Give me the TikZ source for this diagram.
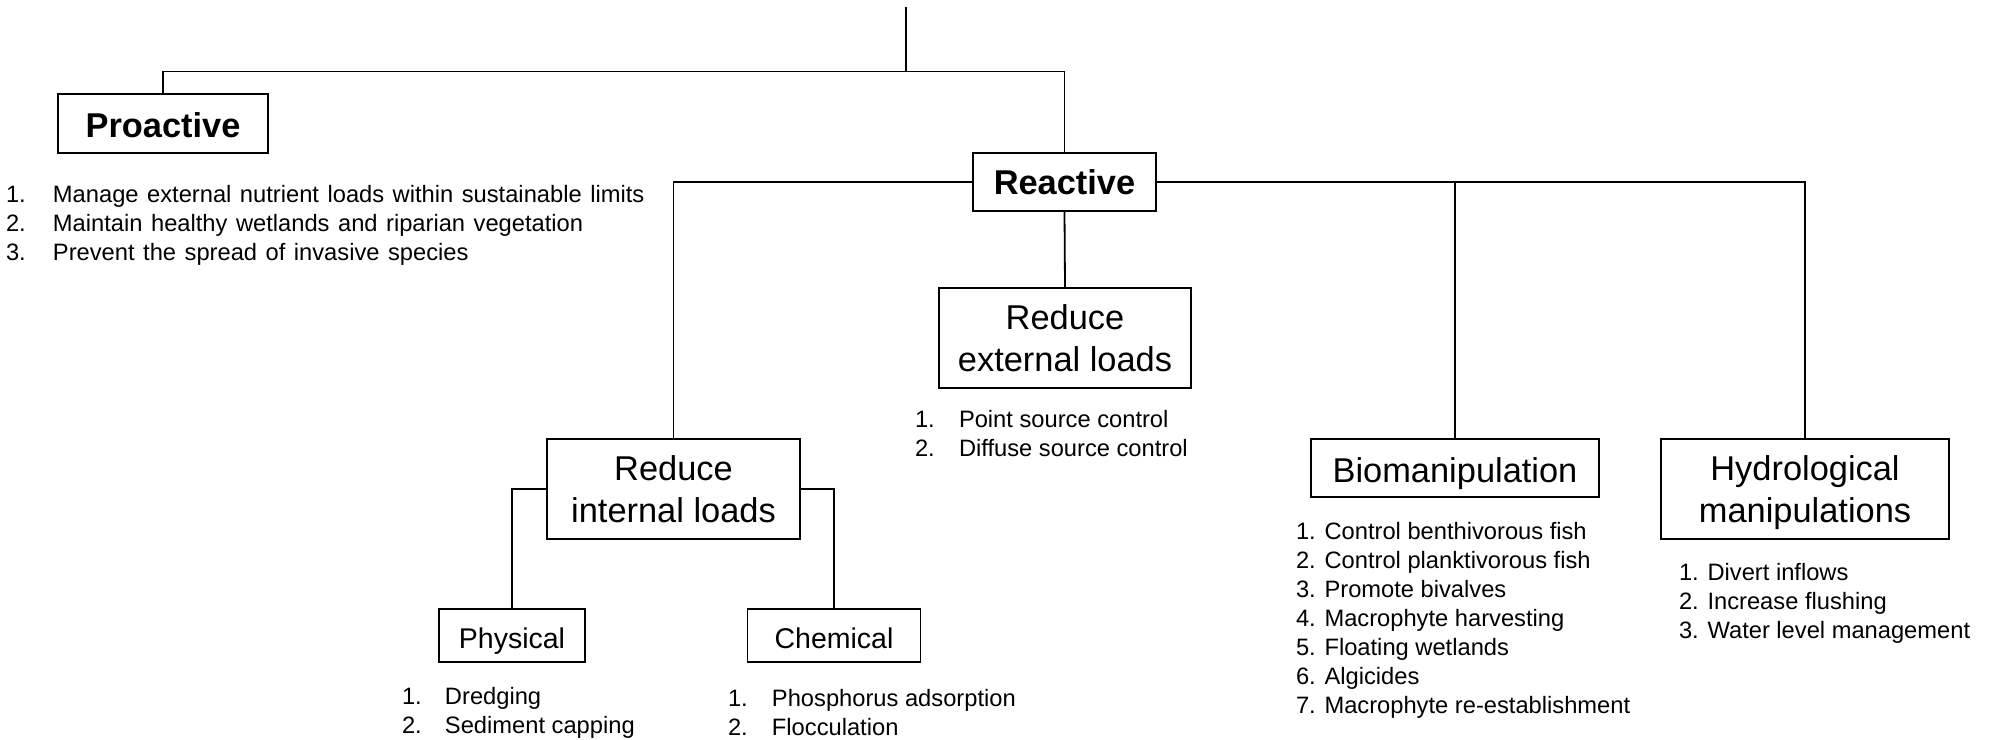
\documentclass[tikz,border=0pt]{standalone}
\usepackage{fontspec}
\setmainfont{Liberation Sans}
\begin{document}
\begin{tikzpicture}[x=1pt,y=-1pt,
  line width=1.8pt,
  box/.style={draw, line width=1.8pt, inner sep=0pt, outer sep=0pt, align=center,
    font=\fontsize{34.4}{42}\selectfont},
  boldbox/.style={box, font=\fontsize{34.4}{42}\selectfont\bfseries},
  smallbox/.style={box, font=\fontsize{28.5}{34}\selectfont, text height=26pt, text depth=0pt},
  listtext/.style={anchor=base west, inner sep=0pt, outer sep=0pt,
    font=\fontsize{23.7}{29}\selectfont},
  conn/.style={draw, line width=1.8pt}
]
\fill[white] (0,0) rectangle (1996,739);
\useasboundingbox (0,0) rectangle (1996,739);

% boxes
\node[boldbox, minimum width=210pt, minimum height=59pt, text height=27pt, text depth=0pt] (pro) at (163,123.5) {Proactive};
\node[boldbox, minimum width=183pt, minimum height=58pt] (reac) at (1064.5,182) {Reactive};
\node[box, minimum width=252pt, minimum height=100pt] (rext) at (1065,338) {Reduce\\external loads};
\node[box, minimum width=253pt, minimum height=100pt] (rint) at (673.5,489) {Reduce\\internal loads};
\node[box, minimum width=288pt, minimum height=58pt, text height=28pt, text depth=0pt] (bio) at (1455,468) {Biomanipulation};
\node[box, minimum width=288pt, minimum height=100pt, text depth=0pt] (hydro) at (1805,489) {Hydrological\\manipulations};
\node[smallbox, minimum width=146pt, minimum height=53pt] (phys) at (512,635.5) {Physical};
\node[smallbox, minimum width=173pt, minimum height=53pt] (chem) at (834,635.5) {Chemical};

% connectors
\coordinate (top) at (906,7);
\coordinate (bar) at (906,71.5);
\draw[conn] (top) -- (bar);
\draw[conn] (pro.north) |- (bar) -| (reac.north);
\draw[conn] (reac.west) -| (rint.north);
\draw[conn] (reac.east) -| (hydro.north);
\draw[conn] (bio.north) |- (reac.east);
\draw[conn] (reac.south) -- (rext.north);
\draw[conn] (rint.west) -| (phys.north);
\draw[conn] (rint.east) -| (chem.north);

% lists
\node[listtext] (plist) at (6,202) {\spaceskip=0.36em plus 0.1em\begin{tabular}[t]{@{}p{47pt}@{}l@{}}
1.&Manage external nutrient loads within sustainable limits\\
2.&Maintain healthy wetlands and riparian vegetation\\
3.&Prevent the spread of invasive species\end{tabular}};

\node[listtext] (elist) at (915,427) {\begin{tabular}[t]{@{}p{44pt}@{}l@{}}
1.&Point source control\\
2.&Diffuse source control\end{tabular}};

\node[listtext] (physlist) at (402,704) {\begin{tabular}[t]{@{}p{43pt}@{}l@{}}
1.&Dredging\\
2.&Sediment capping\end{tabular}};

\node[listtext] (chemlist) at (728,706) {\begin{tabular}[t]{@{}p{44pt}@{}l@{}}
1.&Phosphorus adsorption\\
2.&Flocculation\end{tabular}};

\node[listtext] (biolist) at (1296,539) {\begin{tabular}[t]{@{}l@{}}
1. Control benthivorous fish\\
2. Control planktivorous fish\\
3. Promote bivalves\\
4. Macrophyte harvesting\\
5. Floating wetlands\\
6. Algicides\\
7. Macrophyte re-establishment\end{tabular}};

\node[listtext] (hlist) at (1679,580) {\begin{tabular}[t]{@{}l@{}}
1. Divert inflows\\
2. Increase flushing\\
3. Water level management\end{tabular}};
\end{tikzpicture}
\end{document}
